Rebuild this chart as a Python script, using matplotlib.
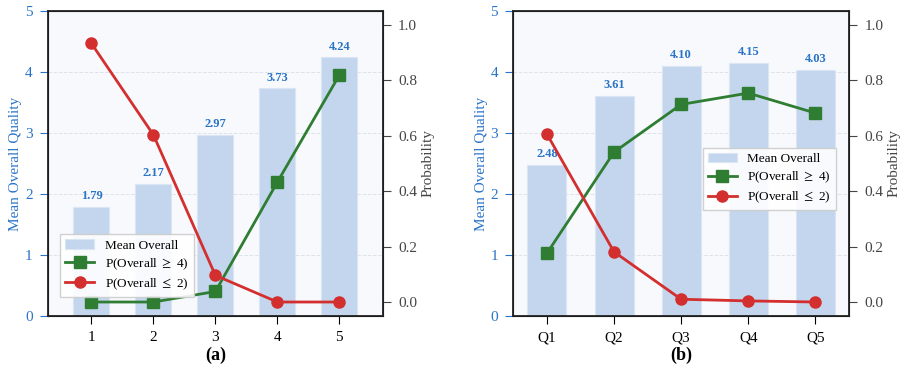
import numpy as np
import matplotlib
matplotlib.use('Agg')
from matplotlib import pyplot as plt

plt.rcParams['font.family'] = ['Liberation Serif', 'DejaVu Serif']
plt.rcParams['mathtext.fontset'] = 'stix'

# panel (a)
labels_a = ['1', '2', '3', '4', '5']
mean_a = [1.79, 2.17, 2.97, 3.73, 4.24]
p_high_a = [0.0, 0.0, 0.038, 0.433, 0.819]
p_low_a = [0.933, 0.603, 0.096, 0.0, 0.0]

# panel (b)
labels_b = ['Q1', 'Q2', 'Q3', 'Q4', 'Q5']
mean_b = [2.48, 3.61, 4.10, 4.15, 4.03]
p_high_b = [0.176, 0.541, 0.713, 0.754, 0.682]
p_low_b = [0.606, 0.181, 0.010, 0.004, 0.0]

BAR = '#c3d6ed'
BLUE = '#2a74c8'
GREEN = '#2e7d32'
RED = '#d32f2f'
GRAY = '#444444'


def draw_panel(ax, x, labels, means, p_high, p_low, xlim, legend_anchor, legend_loc, tag):
    ax.set_facecolor('#f7f9fc')
    bars = ax.bar(x, means, width=0.58, color=BAR, edgecolor='#dbe6f4',
                  linewidth=0.8, label='Mean Overall', zorder=2)
    for xi, m in zip(x, means):
        ax.text(xi, m + 0.08, '%.2f' % m, ha='center', va='bottom',
                fontsize=9, fontweight='bold', color=BLUE, zorder=5)
    ax.set_ylim(0, 5)
    ax.set_xlim(*xlim)
    ax.set_xticks(x)
    ax.set_xticklabels(labels)
    ax.set_ylabel('Mean Overall Quality', color=BLUE, fontsize=11, labelpad=2)
    ax.tick_params(axis='y', colors=BLUE, labelsize=11, length=6, pad=5)
    ax.tick_params(axis='x', labelsize=11, length=6, pad=5)
    ax.yaxis.grid(True, linestyle='--', color='#dde3ea', linewidth=0.7, zorder=1)
    ax.set_axisbelow(True)
    ax.set_xlabel(tag, fontsize=13, fontweight='bold', labelpad=2)

    ax2 = ax.twinx()
    l1, = ax2.plot(x, p_high, '-s', color=GREEN, lw=2, ms=8,
                   label='P(Overall $\\geq$ 4)', zorder=4)
    l2, = ax2.plot(x, p_low, '-o', color=RED, lw=2, ms=8,
                   label='P(Overall $\\leq$ 2)', zorder=4)
    ax2.set_ylim(-0.05, 1.05)
    ax2.set_ylabel('Probability', color=GRAY, fontsize=11, labelpad=3)
    ax2.tick_params(axis='y', colors=GRAY, labelsize=11, length=6, pad=5)
    for s in ['left', 'right', 'top', 'bottom']:
        ax2.spines[s].set_color('#222222')
        ax2.spines[s].set_linewidth(1.3)
    leg = ax2.legend([bars, l1, l2],
                     ['Mean Overall', 'P(Overall $\\geq$ 4)', 'P(Overall $\\leq$ 2)'],
                     loc=legend_loc, bbox_to_anchor=legend_anchor, borderaxespad=0,
                     fontsize=9.5, frameon=True, fancybox=False, labelspacing=0.35,
                     framealpha=0.9, edgecolor='#cccccc', handlelength=2.2)
    leg.get_frame().set_linewidth(1.0)
    return ax2


fig = plt.figure(figsize=(9.07, 3.69), dpi=100)
ax_a = fig.add_axes([0.053, 0.144, 0.369, 0.826])
ax_b = fig.add_axes([0.566, 0.144, 0.370, 0.826])

draw_panel(ax_a, np.arange(1, 6), labels_a, mean_a, p_high_a, p_low_a,
           (0.3, 5.7), (0.036, 0.062), 'lower left', '(a)')
draw_panel(ax_b, np.arange(5), labels_b, mean_b, p_high_b, p_low_b,
           (-0.5, 4.5), (0.962, 0.449), 'center right', '(b)')

plt.savefig('out.png', dpi=100)
